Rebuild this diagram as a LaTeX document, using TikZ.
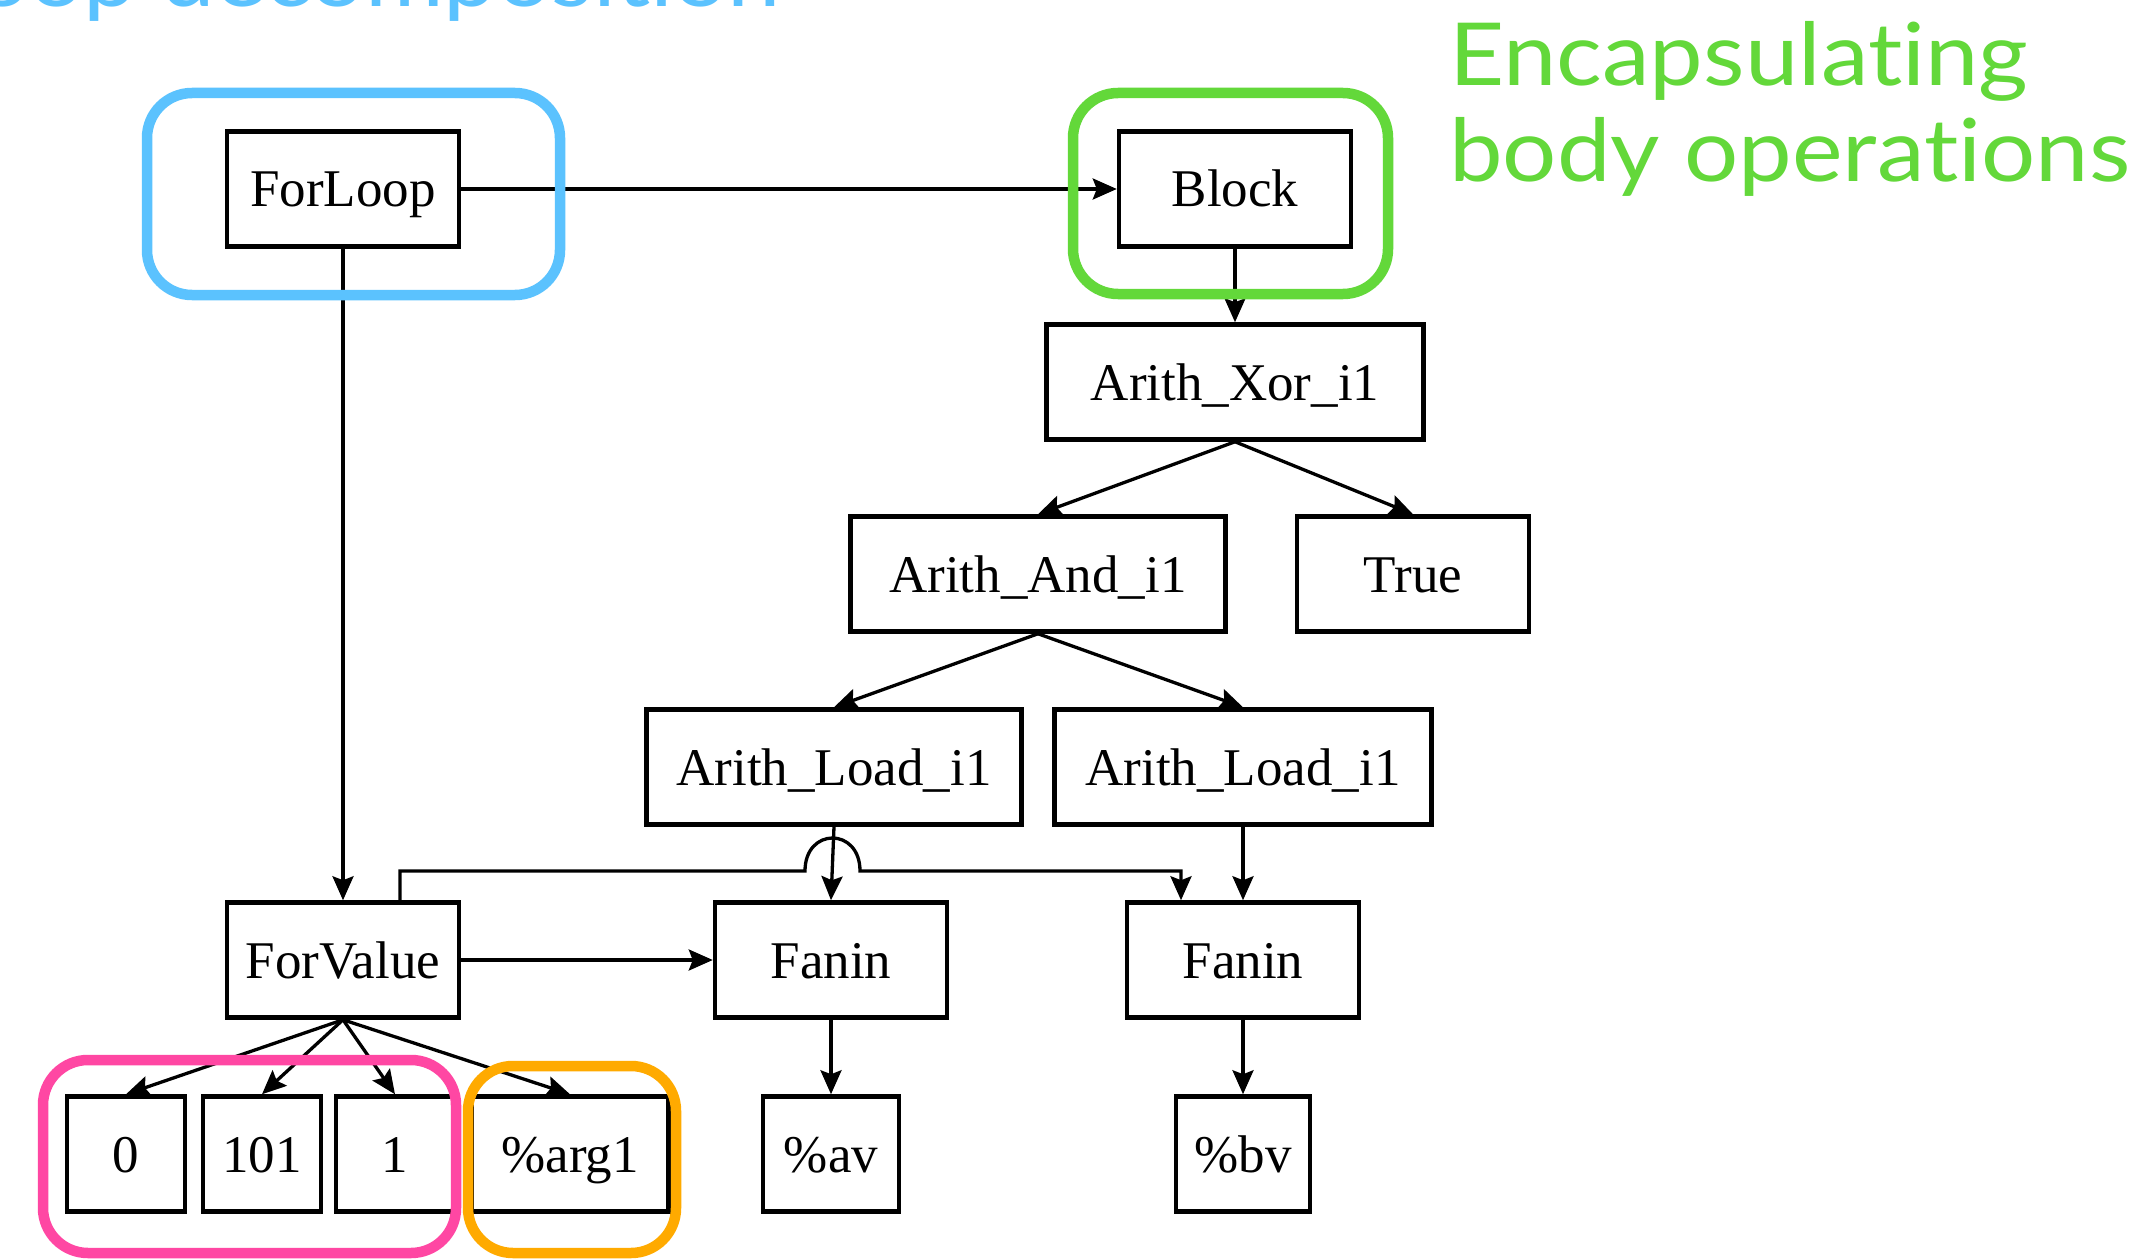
\documentclass[tikz,border=0pt]{standalone}
\usepackage{fontspec}
\setmainfont{Liberation Serif}
\newfontfamily\annfont[FakeStretch=1.1,Ligatures=NoCommon]{Lato}
\usetikzlibrary{arrows.meta}
\definecolor{hlblue}{HTML}{5BC2FE}
\definecolor{hlgreen}{HTML}{63D83A}
\definecolor{hlpink}{HTML}{FF47A3}
\definecolor{hlorange}{HTML}{FFAA00}
\begin{document}
\begin{tikzpicture}[x=1pt,y=-1pt,
  box/.style={draw,line width=4.5pt,rectangle,minimum height=115pt,inner sep=0pt,
    text height=46pt,text depth=10pt,font=\fontsize{53}{60}\selectfont},
  edge/.style={line width=3.3pt,-{Stealth[length=24pt,width=21pt,inset=4pt]}},
  hl/.style={line width=10.5pt,rounded corners=45pt},
  ann/.style={inner sep=0pt,font=\annfont\fontsize{87}{96}\selectfont}]
\useasboundingbox[fill=white] (0,0) rectangle (2148,1260);
% nodes
\node[box,minimum width=232pt] (fl)  at (343,189)  {ForLoop};
\node[box,minimum width=232pt] (blk) at (1235,189) {Block};
\node[box,minimum width=377pt] (xor) at (1235,382) {Arith\_Xor\_i1};
\node[box,minimum width=375pt] (and) at (1038,574) {Arith\_And\_i1};
\node[box,minimum width=232pt] (tru) at (1413,574) {True};
\node[box,minimum width=375pt] (ldl) at (834,767)  {Arith\_Load\_i1};
\node[box,minimum width=377pt] (ldr) at (1243,767) {Arith\_Load\_i1};
\node[box,minimum width=232pt] (fv)  at (343,960)  {ForValue};
\node[box,minimum width=232pt] (fnl) at (831,960)  {Fanin};
\node[box,minimum width=232pt] (fnr) at (1243,960) {Fanin};
\node[box,minimum width=118pt] (n0)  at (126,1154) {0};
\node[box,minimum width=118pt] (n101) at (262,1154) {101};
\node[box,minimum width=118pt] (n1)  at (395,1154) {1};
\node[box,minimum width=197pt] (arg) at (570,1154) {\%arg1};
\node[box,minimum width=136pt] (av)  at (831,1154) {\%av};
\node[box,minimum width=134pt] (bv)  at (1243,1154) {\%bv};
% edges
\draw[edge] (fl.east) -- (blk.west);
\draw[edge] (fl.south) -- (fv.north);
\draw[edge] (blk.south) -- (xor.north);
\draw[edge] (xor.south) -- (and.north);
\draw[edge] (xor.south) -- (tru.north);
\draw[edge] (and.south) -- (ldl.north);
\draw[edge] (and.south) -- (ldr.north);
\draw[edge] (ldl.south) -- (fnl.north);
\draw[edge] (ldr.south) -- (fnr.north);
\draw[edge] (fv.east) -- (fnl.west);
\coordinate (j1) at (805,871);
\coordinate (j2) at (860,871);
\coordinate (c1) at (805,827);
\coordinate (c2) at (860,827);
\draw[edge] ([xshift=57pt]fv.north) |- (j1) .. controls (c1) and (c2) .. (j2) -| ([xshift=-62pt]fnr.north);
\draw[edge] (fv.south) -- (n0.north);
\draw[edge] (fv.south) -- (n101.north);
\draw[edge] (fv.south) -- (n1.north);
\draw[edge] (fv.south) -- (arg.north);
\draw[edge] (fnl.south) -- (av.north);
\draw[edge] (fnr.south) -- (bv.north);
% highlight frames
\draw[hl,hlblue]   (147,93) rectangle (560,295);
\draw[hl,hlgreen]  (1073,93) rectangle (1388,294);
\draw[hl,hlpink]   (43,1060) rectangle (456,1253);
\draw[hl,hlorange] (468,1066) rectangle (676,1253);
% annotations
\node[ann,text=hlblue,anchor=base east] (loopt) at (781,7) {Loop decomposition};
\node[ann,text=hlgreen,anchor=base west] (enc1) at (1449,86) {Encapsulating};
\node[ann,text=hlgreen,anchor=base west] (enc2) at (1449,182) {body operations};
\end{tikzpicture}
\end{document}
